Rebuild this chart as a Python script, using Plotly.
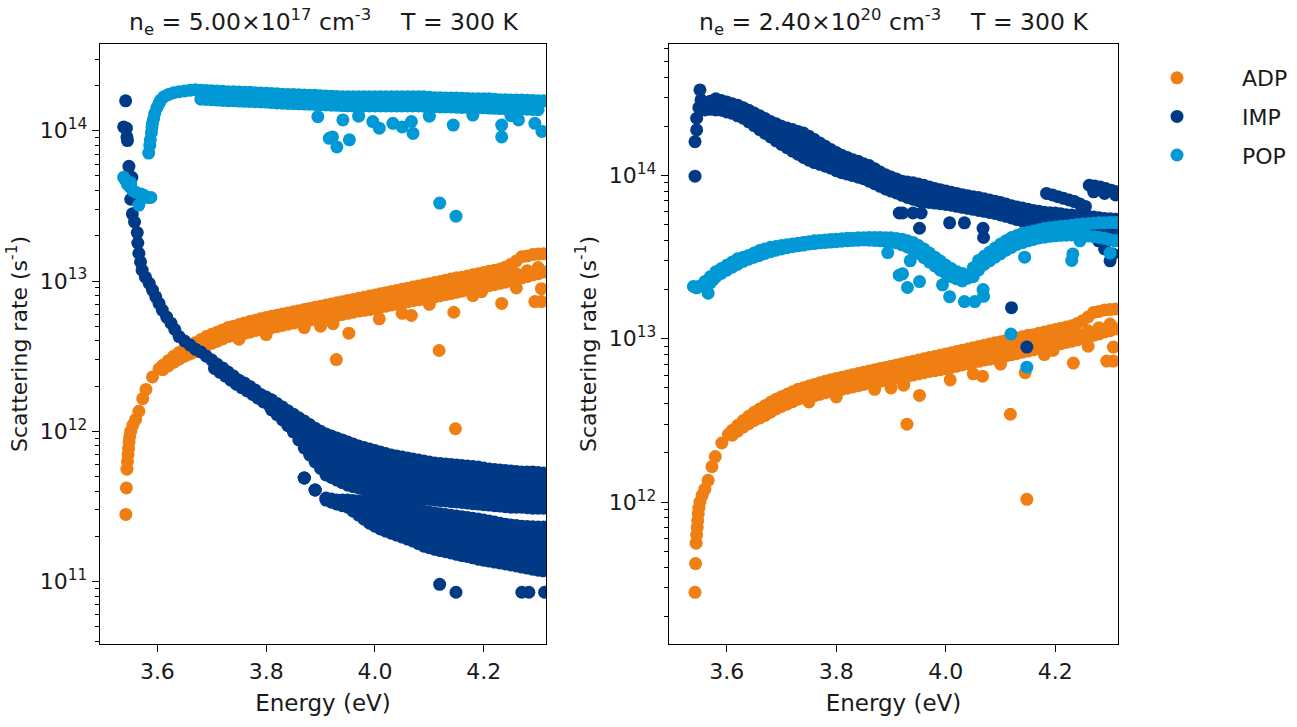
import plotly.graph_objects as go

# ---------------- data ----------------
# units: ADP values in 1e12 s^-1, left IMP in 1e11 s^-1, left POP in 1e14 s^-1,
#        right IMP / POP in 1e13 s^-1 ; onsets are given in s^-1
ADP_UNIT, IMPL_UNIT, POPL_UNIT, RIGHT_UNIT = 1e12, 1e11, 1e14, 1e13

# energy grids (eV)
G361_431 = [3.61, 3.63, 3.65, 3.67, 3.69, 3.71, 3.73, 3.75, 3.77, 3.79, 3.81, 3.83, 3.85, 3.87, 3.89, 3.91, 3.93,
            3.95, 3.97, 3.99, 4.01, 4.03, 4.05, 4.07, 4.09, 4.11, 4.13, 4.15, 4.17, 4.19, 4.21, 4.23, 4.25, 4.27,
            4.29, 4.31]
G362_430 = [3.62, 3.64, 3.66, 3.68, 3.70, 3.72, 3.74, 3.76, 3.78, 3.80, 3.82, 3.84, 3.86, 3.88, 3.90, 3.92, 3.94,
            3.96, 3.98, 4.00, 4.02, 4.04, 4.06, 4.08, 4.10, 4.12, 4.14, 4.16, 4.18, 4.20, 4.22, 4.24, 4.26, 4.28,
            4.30]

# ---- ADP (same in both panels)
ADP_ONSET_E = [3.542, 3.543, 3.544, 3.545, 3.546, 3.547, 3.548, 3.549, 3.551, 3.555, 3.560, 3.566, 3.573, 3.579, 3.591, 3.603]
ADP_ONSET_R = [2.8e11, 4.2e11, 5.6e11, 6.3e11, 7.0e11, 7.7e11, 8.5e11, 9.2e11, 1.0e12, 1.1e12, 1.2e12, 1.36e12, 1.65e12, 1.9e12, 2.3e12, 2.6e12]
ADP_TOP = [2.75, 3.16, 3.55, 3.89, 4.27, 4.57, 4.90, 5.13, 5.37, 5.62, 5.82, 6.03, 6.24, 6.46, 6.68, 6.92, 7.16, 7.41,
           7.67, 7.94, 8.22, 8.51, 8.81, 9.12, 9.44, 9.77, 10.1, 10.5, 10.8, 11.2, 11.6, 12.0, 12.9, 14.5, 15.0, 15.2]
ADP_TOP_B = [2.95, 3.35, 3.72, 4.08, 4.42, 4.73, 5.01, 5.25, 5.49, 5.72, 5.92, 6.13, 6.35, 6.57, 6.80, 7.04, 7.28,
             7.54, 7.80, 8.08, 8.36, 8.66, 8.96, 9.28, 9.60, 9.93, 10.3, 10.6, 11.0, 11.4, 11.8, 12.4, 13.6, 14.7, 15.1]
ADP_MID = [2.86, 3.20, 3.52, 3.82, 4.12, 4.42, 4.72, 4.95, 5.10, 5.19, 5.34, 5.53, 5.72, 5.93, 6.10, 6.31, 6.50,
           6.73, 6.97, 7.16, 7.41, 7.67, 7.94, 8.22, 8.47, 8.77, 9.08, 9.40, 9.72, 10.1, 10.4, 10.8, 11.2, 11.7, 12.3]
ADP_BOT = [2.57, 2.88, 3.16, 3.39, 3.72, 3.98, 4.27, 4.42, 4.57, 4.79, 4.90, 5.07, 5.25, 5.43, 5.56, 5.75, 5.89, 6.10,
           6.31, 6.46, 6.68, 6.92, 7.16, 7.41, 7.59, 7.85, 8.13, 8.41, 8.71, 9.02, 9.33, 9.66, 10.0, 10.5, 11.0, 11.5]
ADP_BOT_B = [2.72, 3.02, 3.27, 3.55, 3.85, 4.12, 4.34, 4.49, 4.68, 4.84, 4.98, 5.16, 5.34, 5.49, 5.65, 5.82, 5.99,
             6.20, 6.38, 6.57, 6.80, 7.04, 7.28, 7.50, 7.72, 7.99, 8.27, 8.56, 8.86, 9.17, 9.49, 9.83, 10.2, 10.7, 11.2]
ADP_OUT_E = [3.923, 3.929, 3.952, 4.008, 4.050, 4.067, 4.118, 4.145, 4.148, 4.196, 4.233, 4.294, 4.306, 4.306,
             3.750, 3.800, 3.870, 3.900, 4.100, 4.180, 4.260]
ADP_OUT = [5.2, 3.0, 4.5, 5.6, 6.1, 5.9, 3.45, 6.2, 1.04, 8.5, 7.1, 7.3, 7.3, 8.9, 4.1, 4.4, 4.9, 5.0, 7.0, 8.0, 9.0]

# ---- IMP, left panel (n = 5e17)
IMPL_ONSET_E = [3.5416, 3.538, 3.543, 3.544, 3.545, 3.5477, 3.553, 3.551, 3.551, 3.554, 3.558]
IMPL_ONSET_R = [1.58e14, 1.06e14, 1.04e14, 9.1e13, 8.6e13, 5.8e13, 4.9e13, 4.2e13, 3.5e13, 2.8e13, 2.47e13]
IMPL_CURVE_E = [3.563, 3.564, 3.566, 3.569, 3.572, 3.578, 3.585, 3.591, 3.597, 3.603, 3.609, 3.617, 3.625, 3.632,
                3.640, 3.650, 3.660, 3.670, 3.680, 3.690, 3.700, 3.710, 3.720, 3.730, 3.740, 3.750, 3.760, 3.770,
                3.780, 3.790, 3.800]
IMPL_CURVE = [210, 179, 153, 134, 118, 106, 96.6, 87.1, 78.5, 71.0, 64.1, 57.6, 52.4, 47.6, 42.7, 39.9, 37.5, 35.2,
              33.7, 31.6, 29.8, 27.9, 26.4, 24.8, 23.3, 21.9, 21.0, 19.9, 18.8, 17.6, 16.9]
IMPL_CURVE2_E = [3.705, 3.715, 3.725, 3.735, 3.745, 3.755, 3.765, 3.775, 3.785, 3.795, 3.805]
IMPL_CURVE2 = [26.2, 24.7, 23.3, 21.9, 20.6, 19.5, 18.6, 17.6, 16.6, 15.7, 15.0]
IMPL_ODD_E = [3.81, 3.83, 3.85, 3.87, 3.89, 3.91, 3.93, 3.95, 3.97, 3.99, 4.01, 4.03, 4.05, 4.07, 4.09, 4.11, 4.13,
              4.15, 4.17, 4.19, 4.21, 4.23, 4.25, 4.27, 4.29, 4.31]
IMPL_EVEN_E = [3.82, 3.84, 3.86, 3.88, 3.90, 3.92, 3.94, 3.96, 3.98, 4.00, 4.02, 4.04, 4.06, 4.08, 4.10, 4.12, 4.14,
               4.16, 4.18, 4.20, 4.22, 4.24, 4.26, 4.28, 4.30]
# upper band: rows T1 (top) .. T5 (bottom); *_O on odd grid, *_E on even grid
IMPL_T1_O = [16.2, 14.5, 13.0, 11.7, 10.5, 9.60, 9.03, 8.49, 7.98, 7.62, 7.28, 6.96, 6.74, 6.54, 6.34, 6.15, 6.06,
             5.97, 5.87, 5.79, 5.61, 5.53, 5.44, 5.36, 5.36, 5.28]
IMPL_T1_E = [15.3, 13.7, 12.3, 11.1, 10.0, 9.31, 8.76, 8.23, 7.80, 7.45, 7.12, 6.85, 6.64, 6.44, 6.24, 6.10, 6.01,
             5.92, 5.83, 5.70, 5.57, 5.48, 5.40, 5.36, 5.32]
IMPL_T2_O = [15.5, 13.8, 12.1, 10.6, 9.27, 8.31, 7.69, 7.21, 6.82, 6.49, 6.22, 5.99, 5.79, 5.63, 5.49, 5.36, 5.27,
             5.18, 5.10, 5.01, 4.90, 4.81, 4.74, 4.69, 4.66, 4.62]
IMPL_T2_E = [14.65, 12.96, 11.35, 9.88, 8.70, 7.94, 7.44, 6.99, 6.65, 6.34, 6.10, 5.88, 5.71, 5.56, 5.42, 5.31, 5.23,
             5.14, 5.06, 4.96, 4.85, 4.78, 4.71, 4.68, 4.64]
IMPL_T3_O = [14.96, 13.15, 11.36, 9.52, 8.11, 7.01, 6.54, 6.11, 5.79, 5.53, 5.32, 5.12, 4.97, 4.86, 4.74, 4.64, 4.57,
             4.49, 4.42, 4.36, 4.26, 4.20, 4.13, 4.10, 4.07, 4.04]
IMPL_T3_E = [14.0, 12.2, 10.4, 8.79, 7.54, 6.77, 6.32, 5.95, 5.66, 5.42, 5.22, 5.04, 4.91, 4.80, 4.69, 4.60, 4.53,
             4.45, 4.39, 4.31, 4.23, 4.16, 4.11, 4.08, 4.05]
IMPL_T4_O = [14.2, 12.4, 10.5, 8.64, 7.14, 6.14, 5.57, 5.20, 4.92, 4.72, 4.54, 4.39, 4.27, 4.18, 4.10, 4.02, 3.96,
             3.90, 3.84, 3.78, 3.72, 3.66, 3.61, 3.58, 3.55, 3.53]
IMPL_T4_E = [13.45, 11.51, 9.54, 7.82, 6.53, 5.78, 5.36, 5.04, 4.81, 4.63, 4.46, 4.33, 4.22, 4.14, 4.06, 3.99, 3.93,
             3.87, 3.81, 3.75, 3.69, 3.63, 3.60, 3.57, 3.54]
IMPL_T5_O = [13.9, 11.9, 9.9, 7.75, 6.25, 5.12, 4.74, 4.39, 4.20, 4.00, 3.89, 3.77, 3.66, 3.60, 3.55, 3.49, 3.44,
             3.39, 3.33, 3.28, 3.23, 3.18, 3.13, 3.13, 3.08, 3.08]
IMPL_T5_E = [12.9, 10.9, 8.76, 6.96, 5.66, 4.93, 4.56, 4.29, 4.10, 3.94, 3.83, 3.71, 3.63, 3.57, 3.52, 3.46, 3.41,
             3.36, 3.30, 3.25, 3.20, 3.15, 3.13, 3.10, 3.08]
# lower band: rows L1 (top) .. L5 (bottom)
IMPL_LOW_ODD_E = [3.87, 3.89, 3.91, 3.93, 3.95, 3.97, 3.99, 4.01, 4.03, 4.05, 4.07, 4.09, 4.11, 4.13, 4.15, 4.17,
                  4.19, 4.21, 4.23, 4.25, 4.27, 4.29, 4.31]
IMPL_LOW_ODD2_E = [3.93, 3.95, 3.97, 3.99, 4.01, 4.03, 4.05, 4.07, 4.09, 4.11, 4.13, 4.15, 4.17, 4.19, 4.21, 4.23,
                   4.25, 4.27, 4.29, 4.31]
IMPL_LOW_EVEN_E = [3.92, 3.94, 3.96, 3.98, 4.00, 4.02, 4.04, 4.06, 4.08, 4.10, 4.12, 4.14, 4.16, 4.18, 4.20, 4.22,
                   4.24, 4.26, 4.28, 4.30]
IMPL_L1_O = [4.89, 4.07, 3.60, 3.49, 3.49, 3.44, 3.39, 3.28, 3.18, 3.08, 3.02, 2.94, 2.86, 2.80, 2.73, 2.67, 2.61,
             2.53, 2.45, 2.38, 2.34, 2.32, 2.31]
IMPL_L1_E = [3.54, 3.49, 3.46, 3.41, 3.33, 3.23, 3.13, 3.05, 2.98, 2.90, 2.83, 2.76, 2.70, 2.64, 2.57, 2.49, 2.41,
             2.36, 2.33, 2.31]
IMPL_L2_O = [3.46, 3.37, 3.25, 3.11, 2.98, 2.86, 2.76, 2.67, 2.57, 2.49, 2.43, 2.36, 2.30, 2.24, 2.17, 2.10, 2.05,
             2.00, 1.97, 1.95]
IMPL_L2_E = [3.50, 3.42, 3.33, 3.18, 3.04, 2.92, 2.81, 2.72, 2.62, 2.53, 2.46, 2.40, 2.33, 2.27, 2.20, 2.14, 2.07,
             2.02, 1.99, 1.96]
IMPL_L3_O = [4.89, 4.07, 3.54, 3.39, 3.31, 3.08, 2.88, 2.71, 2.59, 2.48, 2.37, 2.25, 2.17, 2.10, 2.04, 1.98, 1.92,
             1.86, 1.80, 1.75, 1.71, 1.67, 1.64]
IMPL_L3_E = [3.46, 3.35, 3.19, 2.98, 2.79, 2.65, 2.53, 2.42, 2.31, 2.21, 2.13, 2.07, 2.01, 1.95, 1.89, 1.83, 1.77,
             1.73, 1.69, 1.65]
IMPL_L4_O = [3.35, 3.17, 2.92, 2.67, 2.48, 2.33, 2.21, 2.09, 1.98, 1.89, 1.82, 1.76, 1.70, 1.64, 1.59, 1.54, 1.50,
             1.46, 1.42, 1.39]
IMPL_L4_E = [3.42, 3.28, 3.06, 2.79, 2.56, 2.40, 2.27, 2.16, 2.03, 1.93, 1.86, 1.79, 1.73, 1.67, 1.62, 1.57, 1.52,
             1.48, 1.44, 1.41]
IMPL_L5_O = [4.89, 4.07, 3.49, 3.28, 3.13, 2.77, 2.45, 2.24, 2.10, 1.98, 1.86, 1.72, 1.64, 1.58, 1.52, 1.47, 1.41,
             1.37, 1.33, 1.29, 1.25, 1.21, 1.18]
IMPL_L5_E = [3.38, 3.20, 2.94, 2.60, 2.34, 2.17, 2.04, 1.92, 1.79, 1.68, 1.61, 1.55, 1.49, 1.44, 1.39, 1.35, 1.31,
             1.27, 1.23, 1.19]
IMPL_OUT_E = [4.119, 4.149, 4.270, 4.283, 4.312]
IMPL_OUT = [0.96, 0.85, 0.85, 0.85, 0.85]

# ---- POP, left panel
POPL_ONSET_E = [3.538, 3.541, 3.545, 3.551, 3.555, 3.560, 3.566, 3.570, 3.576, 3.582, 3.588, 3.584, 3.586, 3.587,
                3.589, 3.590, 3.591, 3.593, 3.595, 3.599, 3.603, 3.606, 3.612, 3.620, 3.630, 3.640, 3.650, 3.660]
POPL_ONSET = [0.49, 0.47, 0.44, 0.45, 0.40, 0.39, 0.32, 0.38, 0.37, 0.36, 0.36, 0.71, 0.80, 0.87, 0.97, 1.05, 1.12,
              1.20, 1.30, 1.42, 1.52, 1.60, 1.68, 1.74, 1.79, 1.82, 1.84, 1.86]
POPL_ODD_E = [3.67, 3.69, 3.71, 3.73, 3.75, 3.77, 3.79, 3.81, 3.83, 3.85, 3.87, 3.89, 3.91, 3.93, 3.95, 3.97, 3.99,
              4.01, 4.03, 4.05, 4.07, 4.09, 4.11, 4.13, 4.15, 4.17, 4.19, 4.21, 4.23, 4.25, 4.27, 4.29, 4.31]
POPL_EVEN_E = [3.68, 3.70, 3.72, 3.74, 3.76, 3.78, 3.80, 3.82, 3.84, 3.86, 3.88, 3.90, 3.92, 3.94, 3.96, 3.98, 4.00,
               4.02, 4.04, 4.06, 4.08, 4.10, 4.12, 4.14, 4.16, 4.18, 4.20, 4.22, 4.24, 4.26, 4.28, 4.30]
POPL_LO_ODD_E = [3.69, 3.71, 3.73, 3.75, 3.77, 3.79, 3.81, 3.83, 3.85, 3.87, 3.89, 3.91, 3.93, 3.95, 3.97, 3.99,
                 4.01, 4.03, 4.05, 4.07, 4.09, 4.11, 4.13, 4.15, 4.17, 4.19, 4.21, 4.23, 4.25, 4.27, 4.29]
POPL_UP_O = [1.87, 1.85, 1.84, 1.82, 1.81, 1.80, 1.78, 1.77, 1.75, 1.74, 1.73, 1.72, 1.70, 1.69, 1.68, 1.68, 1.68,
             1.68, 1.68, 1.68, 1.68, 1.68, 1.66, 1.65, 1.65, 1.64, 1.63, 1.63, 1.61, 1.60, 1.60, 1.59, 1.58]
POPL_UP_E = [1.86, 1.845, 1.83, 1.815, 1.805, 1.79, 1.775, 1.76, 1.745, 1.735, 1.725, 1.71, 1.695, 1.685, 1.68, 1.68,
             1.68, 1.68, 1.68, 1.68, 1.68, 1.67, 1.655, 1.65, 1.645, 1.635, 1.63, 1.62, 1.605, 1.60, 1.595, 1.585]
POPL_LO_E = [1.62, 1.61, 1.59, 1.58, 1.57, 1.56, 1.55, 1.53, 1.52, 1.51, 1.50, 1.49, 1.48, 1.47, 1.46, 1.46, 1.46,
             1.46, 1.46, 1.46, 1.46, 1.45, 1.44, 1.44, 1.43, 1.43, 1.42, 1.41, 1.40, 1.39, 1.39, 1.38]
POPL_LO_O = [1.615, 1.60, 1.585, 1.575, 1.565, 1.555, 1.54, 1.525, 1.515, 1.505, 1.495, 1.485, 1.475, 1.465, 1.46,
             1.46, 1.46, 1.46, 1.46, 1.46, 1.455, 1.445, 1.44, 1.435, 1.43, 1.425, 1.415, 1.405, 1.395, 1.39, 1.385]
POPL_OUT_E = [3.895, 3.916, 3.922, 3.930, 3.941, 3.953, 3.970, 3.996, 4.008, 4.033, 4.050, 4.067, 4.070, 4.100,
              4.119, 4.144, 4.149, 4.180, 4.233, 4.233, 4.250, 4.264, 4.294, 4.307]
POPL_OUT = [1.24, 0.89, 0.91, 0.78, 1.18, 0.87, 1.25, 1.15, 1.04, 1.12, 1.06, 1.15, 0.96, 1.25, 0.33, 1.09, 0.27,
            1.27, 1.09, 0.91, 1.26, 1.18, 1.12, 0.99]

# ---- right panel (n = 2.4e20)
E_R = [3.56, 3.58, 3.60, 3.62, 3.64, 3.66, 3.68, 3.70, 3.72, 3.74, 3.76, 3.78, 3.80, 3.82, 3.84, 3.86, 3.88, 3.90,
       3.92, 3.94, 3.96, 3.98, 4.00, 4.02, 4.04, 4.06, 4.08, 4.10, 4.12, 4.14, 4.16, 4.18, 4.20, 4.22, 4.24, 4.26,
       4.28, 4.30, 4.31]
E_R_ODD = [3.57, 3.59, 3.61, 3.63, 3.65, 3.67, 3.69, 3.71, 3.73, 3.75, 3.77, 3.79, 3.81, 3.83, 3.85, 3.87, 3.89,
           3.91, 3.93, 3.95, 3.97, 3.99, 4.01, 4.03, 4.05, 4.07, 4.09, 4.11, 4.13, 4.15, 4.17, 4.19, 4.21, 4.23,
           4.25, 4.27, 4.29, 4.31]
IMPR_ONSET_E = [3.542, 3.542, 3.545, 3.545, 3.549, 3.551, 3.553]
IMPR_ONSET_R = [9.9e13, 1.61e14, 1.90e14, 2.24e14, 2.60e14, 3.34e14, 2.90e14]
IMPR_R1_E = [27.5, 29.5, 28.2, 26.9, 25.1, 23.2, 21.4, 20.0, 19.1, 18.2, 16.6, 15.1, 13.8, 12.9, 12.2, 11.5, 10.5,
             9.77, 9.23, 9.02, 8.71, 8.32, 8.04, 7.76, 7.50, 7.33, 7.08, 6.84, 6.53, 6.31, 6.10, 5.96, 5.89, 5.75,
             5.69, 5.62, 5.50, 5.43, 5.40]
IMPR_R1_O = [28.5, 28.8, 27.5, 26.0, 24.1, 22.3, 20.7, 19.5, 18.6, 17.4, 15.8, 14.4, 13.3, 12.5, 11.8, 11.0, 10.1,
             9.50, 9.12, 8.86, 8.51, 8.18, 7.90, 7.63, 7.41, 7.20, 6.96, 6.68, 6.42, 6.20, 6.03, 5.92, 5.82, 5.72,
             5.65, 5.56, 5.46, 5.40]
IMPR_R2_E = [27.0, 27.4, 26.9, 25.5, 23.7, 21.7, 19.9, 18.4, 17.2, 16.1, 14.9, 13.7, 12.7, 11.9, 11.3, 10.6, 9.82,
             9.18, 8.69, 8.33, 8.05, 7.78, 7.53, 7.30, 7.08, 6.88, 6.67, 6.44, 6.18, 5.94, 5.76, 5.62, 5.52, 5.42,
             5.33, 5.25, 5.16, 5.09, 5.06]
IMPR_R2_O = [27.4, 27.5, 26.3, 24.7, 22.7, 20.8, 19.1, 17.8, 16.7, 15.5, 14.3, 13.2, 12.3, 11.6, 11.0, 10.2, 9.46,
             8.90, 8.48, 8.19, 7.91, 7.65, 7.42, 7.18, 6.98, 6.78, 6.57, 6.31, 6.05, 5.84, 5.68, 5.57, 5.47, 5.37,
             5.30, 5.21, 5.12, 5.06]
IMPR_R3_E = [25.9, 26.9, 25.7, 24.5, 22.5, 20.3, 18.5, 16.9, 15.6, 14.5, 13.4, 12.6, 11.7, 11.0, 10.5, 10.0, 9.12,
             8.57, 8.09, 7.67, 7.46, 7.24, 7.11, 6.87, 6.68, 6.49, 6.31, 6.10, 5.82, 5.58, 5.43, 5.31, 5.21, 5.09,
             4.99, 4.93, 4.86, 4.76, 4.73]
IMPR_R3_O = [26.4, 26.3, 25.1, 23.5, 21.4, 19.4, 17.7, 16.2, 15.0, 13.9, 13.0, 12.1, 11.3, 10.7, 10.2, 9.55, 8.84,
             8.33, 7.88, 7.56, 7.35, 7.17, 6.99, 6.77, 6.58, 6.40, 6.20, 5.96, 5.70, 5.50, 5.37, 5.26, 5.15, 5.04,
             4.96, 4.89, 4.81, 4.74]
IMPR_R4_E = [25.2, 25.2, 24.5, 23.2, 21.3, 19.1, 17.2, 15.5, 14.1, 12.9, 12.0, 11.4, 10.7, 10.2, 9.76, 9.22, 8.58,
             8.03, 7.56, 7.16, 6.92, 6.78, 6.64, 6.47, 6.29, 6.11, 5.94, 5.73, 5.49, 5.27, 5.13, 5.01, 4.89, 4.78,
             4.69, 4.62, 4.55, 4.48, 4.44]
IMPR_R4_O = [25.4, 25.1, 24.0, 22.4, 20.2, 18.1, 16.3, 14.8, 13.5, 12.4, 11.7, 11.1, 10.4, 9.98, 9.55, 8.91, 8.27,
             7.81, 7.33, 7.00, 6.84, 6.72, 6.57, 6.38, 6.20, 6.03, 5.85, 5.62, 5.37, 5.19, 5.07, 4.95, 4.84, 4.73,
             4.65, 4.59, 4.52, 4.44]
IMPR_BRANCH_E = [4.184, 4.195, 4.205, 4.215, 4.225, 4.235, 4.245, 4.255,
                 4.262, 4.272, 4.282, 4.292, 4.302, 4.312, 4.270, 4.290, 4.310]
IMPR_BRANCH = [7.76, 7.59, 7.41, 7.24, 7.08, 6.92, 6.68, 6.46, 8.71, 8.61, 8.51, 8.32, 8.13, 7.94, 7.94, 7.76, 7.59]
IMPR_OUT_E = [3.915, 3.921, 3.940, 3.955, 3.952, 4.007, 4.034, 4.068, 4.069, 4.279, 4.290, 4.300, 4.305, 4.120, 4.148]
IMPR_OUT = [5.89, 5.89, 5.89, 5.89, 4.75, 5.13, 5.13, 4.75, 4.17, 3.98, 3.55, 3.00, 3.31, 1.55, 0.89]

POPR_ONSET_E = [3.539, 3.545, 3.550, 3.566, 3.570, 3.575]
POPR_ONSET = [2.09, 2.05, 2.10, 1.90, 2.20, 2.30]
POPR_TOP_E = [2.24, 2.57, 2.82, 3.09, 3.24, 3.47, 3.63, 3.72, 3.80, 3.89, 3.98, 4.03, 4.07, 4.12, 4.15, 4.17, 4.17,
              4.15, 4.07, 3.89, 3.55, 3.16, 2.82, 2.57, 2.45, 3.02, 3.39, 3.80, 4.17, 4.42, 4.57, 4.73, 4.84, 4.90,
              5.01, 5.07, 5.13, 5.15, 5.15]
POPR_TOP_O = [2.40, 2.69, 2.95, 3.16, 3.35, 3.55, 3.67, 3.76, 3.84, 3.93, 4.00, 4.05, 4.09, 4.13, 4.16, 4.17, 4.16,
              4.11, 3.98, 3.72, 3.35, 2.99, 2.69, 2.51, 2.72, 3.20, 3.59, 3.98, 4.29, 4.49, 4.65, 4.78, 4.87, 4.95,
              5.04, 5.10, 5.14, 5.15]
POPR_BOT_E = [2.15, 2.39, 2.63, 2.86, 3.07, 3.24, 3.41, 3.55, 3.66, 3.75, 3.83, 3.89, 3.93, 3.98, 4.01, 4.01, 3.98,
              3.91, 3.76, 3.49, 3.14, 2.79, 2.51, 2.33, 2.35, 2.64, 3.00, 3.32, 3.63, 3.88, 4.06, 4.19, 4.27, 4.31,
              4.31, 4.26, 4.17, 4.05, 3.98]
POPR_BOT_O = [2.27, 2.51, 2.75, 2.98, 3.16, 3.33, 3.49, 3.61, 3.71, 3.80, 3.87, 3.91, 3.96, 4.00, 4.03, 4.00, 3.96,
              3.87, 3.65, 3.33, 2.95, 2.63, 2.40, 2.26, 2.45, 2.85, 3.16, 3.49, 3.78, 3.98, 4.14, 4.24, 4.30, 4.32,
              4.30, 4.22, 4.12, 3.98]
POPR_OUT_E = [3.894, 3.915, 3.921, 3.930, 3.935, 3.952, 3.994, 4.007, 4.034, 4.053, 4.068, 4.069, 4.144, 4.230,
              4.232, 4.245, 4.300, 4.119, 4.148, 4.050, 4.050]
POPR_OUT = [3.37, 2.45, 2.50, 2.06, 3.00, 2.24, 2.14, 1.81, 1.69, 1.69, 2.00, 1.82, 3.16, 3.02, 3.31, 3.98, 3.35,
            1.07, 0.67, 2.60, 2.40]

SERIES_NAMES = ["ADP", "IMP", "POP"]
TITLES = ["n<sub>e</sub> = 5.00×10<sup>17</sup> cm<sup>-3</sup>\u00a0\u00a0\u00a0\u00a0T = 300 K",
          "n<sub>e</sub> = 2.40×10<sup>20</sup> cm<sup>-3</sup>\u00a0\u00a0\u00a0\u00a0T = 300 K"]
X_TICKS = [3.6, 3.8, 4.0, 4.2]
X_TICKTEXT = ["3.6", "3.8", "4.0", "4.2"]

# ---------------- styling ----------------
COLORS = {"ADP": "#EF7F13", "IMP": "#003A87", "POP": "#0099D5"}
FONT = "DejaVu Sans"
TXT = "#1a1a1a"
MSIZE = 13


def gather(parts):
    xs, ys = [], []
    for e, r, unit in parts:
        assert len(e) == len(r), (len(e), len(r))
        xs += list(e)
        ys += [v * unit for v in r]
    return xs, ys


adp = gather([(ADP_ONSET_E, ADP_ONSET_R, 1),
              (G361_431, ADP_BOT, ADP_UNIT), (G362_430, ADP_BOT_B, ADP_UNIT),
              (G362_430, ADP_MID, ADP_UNIT),
              (G361_431, ADP_TOP, ADP_UNIT), (G362_430, ADP_TOP_B, ADP_UNIT),
              (ADP_OUT_E, ADP_OUT, ADP_UNIT)])
imp_l = gather([(IMPL_ONSET_E, IMPL_ONSET_R, 1), (IMPL_CURVE_E, IMPL_CURVE, IMPL_UNIT),
                (IMPL_CURVE2_E, IMPL_CURVE2, IMPL_UNIT),
                (IMPL_ODD_E, IMPL_T1_O, IMPL_UNIT), (IMPL_EVEN_E, IMPL_T1_E, IMPL_UNIT),
                (IMPL_ODD_E, IMPL_T2_O, IMPL_UNIT), (IMPL_EVEN_E, IMPL_T2_E, IMPL_UNIT),
                (IMPL_ODD_E, IMPL_T3_O, IMPL_UNIT), (IMPL_EVEN_E, IMPL_T3_E, IMPL_UNIT),
                (IMPL_ODD_E, IMPL_T4_O, IMPL_UNIT), (IMPL_EVEN_E, IMPL_T4_E, IMPL_UNIT),
                (IMPL_ODD_E, IMPL_T5_O, IMPL_UNIT), (IMPL_EVEN_E, IMPL_T5_E, IMPL_UNIT),
                (IMPL_LOW_ODD_E, IMPL_L1_O, IMPL_UNIT), (IMPL_LOW_EVEN_E, IMPL_L1_E, IMPL_UNIT),
                (IMPL_LOW_ODD2_E, IMPL_L2_O, IMPL_UNIT), (IMPL_LOW_EVEN_E, IMPL_L2_E, IMPL_UNIT),
                (IMPL_LOW_ODD_E, IMPL_L3_O, IMPL_UNIT), (IMPL_LOW_EVEN_E, IMPL_L3_E, IMPL_UNIT),
                (IMPL_LOW_ODD2_E, IMPL_L4_O, IMPL_UNIT), (IMPL_LOW_EVEN_E, IMPL_L4_E, IMPL_UNIT),
                (IMPL_LOW_ODD_E, IMPL_L5_O, IMPL_UNIT), (IMPL_LOW_EVEN_E, IMPL_L5_E, IMPL_UNIT),
                (IMPL_OUT_E, IMPL_OUT, IMPL_UNIT)])
pop_l = gather([(POPL_ONSET_E, POPL_ONSET, POPL_UNIT),
                (POPL_EVEN_E, POPL_LO_E, POPL_UNIT), (POPL_LO_ODD_E, POPL_LO_O, POPL_UNIT),
                (POPL_ODD_E, POPL_UP_O, POPL_UNIT), (POPL_EVEN_E, POPL_UP_E, POPL_UNIT),
                (POPL_OUT_E, POPL_OUT, POPL_UNIT)])
imp_r = gather([(IMPR_ONSET_E, IMPR_ONSET_R, 1),
                (E_R, IMPR_R4_E, RIGHT_UNIT), (E_R_ODD, IMPR_R4_O, RIGHT_UNIT),
                (E_R, IMPR_R3_E, RIGHT_UNIT), (E_R_ODD, IMPR_R3_O, RIGHT_UNIT),
                (E_R, IMPR_R2_E, RIGHT_UNIT), (E_R_ODD, IMPR_R2_O, RIGHT_UNIT),
                (E_R, IMPR_R1_E, RIGHT_UNIT), (E_R_ODD, IMPR_R1_O, RIGHT_UNIT),
                (IMPR_BRANCH_E, IMPR_BRANCH, RIGHT_UNIT), (IMPR_OUT_E, IMPR_OUT, RIGHT_UNIT)])
pop_r = gather([(POPR_ONSET_E, POPR_ONSET, RIGHT_UNIT),
                (E_R, POPR_BOT_E, RIGHT_UNIT), (E_R_ODD, POPR_BOT_O, RIGHT_UNIT),
                (E_R, POPR_TOP_E, RIGHT_UNIT), (E_R_ODD, POPR_TOP_O, RIGHT_UNIT),
                (POPR_OUT_E, POPR_OUT, RIGHT_UNIT)])

panels = [
    ("x", "y", {"ADP": adp, "IMP": imp_l, "POP": pop_l}, True),
    ("x2", "y2", {"ADP": adp, "IMP": imp_r, "POP": pop_r}, False),
]

fig = go.Figure()
for xa, ya, data, show in panels:
    for name in SERIES_NAMES:
        xs, ys = data[name]
        fig.add_trace(go.Scatter(
            x=xs, y=ys, mode="markers", name=name, legendgroup=name, showlegend=show,
            xaxis=xa, yaxis=ya,
            marker=dict(size=MSIZE, color=COLORS[name], line=dict(width=0)),
        ))

W, H = 1297, 727
LEFT_PX, RIGHT_PX = (100, 546), (669, 1118)
TOP_PX, BOT_PX = 44, 644
ydom = [(H - BOT_PX) / H, (H - TOP_PX) / H]
XRANGE = [3.4945, 4.3145]


def minor_vals(lo, hi):
    vals = []
    for p in range(lo, hi + 1):
        for m in range(2, 10):
            vals.append(m * 10 ** p)
    return vals


def xaxis(dom, anchor):
    return dict(domain=dom, anchor=anchor, range=XRANGE, tickvals=X_TICKS, ticktext=X_TICKTEXT,
                ticks="outside", ticklen=7, tickwidth=1.3, tickcolor="black",
                showline=True, linecolor="black", linewidth=1.4, mirror=True,
                showgrid=False, zeroline=False, automargin=False,
                tickfont=dict(family=FONT, size=22, color=TXT),
                title=dict(text="Energy (eV)", standoff=12, font=dict(family=FONT, size=23, color=TXT)))


def yaxis(dom, anchor, rng, majors):
    return dict(domain=dom, anchor=anchor, type="log", range=rng,
                tickvals=[10 ** p for p in majors],
                ticktext=["10<sup>%d</sup>" % p for p in majors],
                ticks="outside", ticklen=7, tickwidth=1.3, tickcolor="black",
                minor=dict(tickvals=minor_vals(10, 14), ticks="outside", ticklen=4, tickwidth=1, tickcolor="black"),
                showline=True, linecolor="black", linewidth=1.4, mirror=True,
                showgrid=False, zeroline=False, automargin=False,
                tickfont=dict(family=FONT, size=22, color=TXT),
                title=dict(text="Scattering rate (s<sup>-1</sup>)", standoff=6,
                           font=dict(family=FONT, size=22, color=TXT)))


fig.update_layout(
    width=W, height=H, margin=dict(l=0, r=0, t=0, b=0, autoexpand=False),
    paper_bgcolor="white", plot_bgcolor="white",
    font=dict(family=FONT, size=22, color=TXT),
    xaxis=xaxis([LEFT_PX[0] / W, LEFT_PX[1] / W], "y"),
    xaxis2=xaxis([RIGHT_PX[0] / W, RIGHT_PX[1] / W], "y2"),
    yaxis=yaxis(ydom, "x", [10.585, 14.577], [11, 12, 13, 14]),
    yaxis2=yaxis(ydom, "x2", [11.131, 14.805], [12, 13, 14]),
    legend=dict(x=1112 / W, y=1 - 57 / H, xanchor="left", yanchor="top", bgcolor="rgba(0,0,0,0)",
                font=dict(family=FONT, size=22, color=TXT), tracegroupgap=7, itemwidth=120),
    showlegend=True,
)

for i, (lo, hi) in enumerate([LEFT_PX, RIGHT_PX]):
    fig.add_annotation(text=TITLES[i], x=(lo + hi) / 2 / W, y=1 - 22 / H, xref="paper", yref="paper",
                       showarrow=False, xanchor="center", yanchor="middle",
                       font=dict(family=FONT, size=23.5, color=TXT))

fig.write_html("out.html")
